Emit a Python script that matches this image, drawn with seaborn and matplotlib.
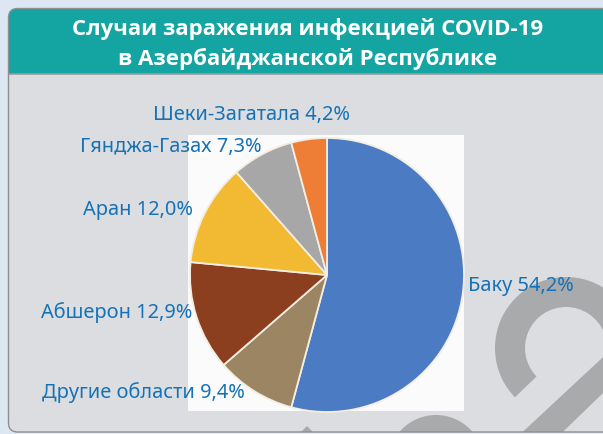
import matplotlib
matplotlib.use("Agg")
import matplotlib.pyplot as plt
from matplotlib.patches import FancyBboxPatch, Rectangle, Wedge, Polygon, Ellipse
import seaborn as sns

# Data: share of COVID-19 cases by economic region (%)
regions = ["Баку", "Другие области", "Абшерон", "Аран", "Гянджа-Газах", "Шеки-Загатала"]
shares = [54.2, 9.4, 12.9, 12.0, 7.3, 4.2]
region_colors = ["#4b7bc3", "#9c8562", "#8c3f1f", "#f2b933", "#a7a7a7", "#ee7d35"]
title_lines = ["Случаи заражения инфекцией COVID-19", "в Азербайджанской Республике"]

sns.set_theme(style="white")
plt.rcParams["font.family"] = ["Noto Sans", "DejaVu Sans"]

W, H = 603, 434
fig = plt.figure(figsize=(W / 100, H / 100), dpi=100)
fig.patch.set_facecolor("#dde7f4")

# Pixel-space canvas for the panel, header and background decoration
bg = fig.add_axes([0, 0, 1, 1])
bg.set_xlim(0, W)
bg.set_ylim(H, 0)
bg.axis("off")

panel_kw = dict(boxstyle="round,pad=0,rounding_size=9")
panel = FancyBboxPatch((8.5, 8.5), 700, 423.5, facecolor="#dcdde0",
                       edgecolor="none", zorder=1, **panel_kw)
bg.add_patch(panel)

header = Rectangle((0, 0), W + 100, 73.5, facecolor="#14a4a1",
                   edgecolor="none", zorder=2)
bg.add_patch(header)
header.set_clip_path(panel)
bg.plot([8.5, W], [73.5, 73.5], color="#9a9c9e", lw=1.2, zorder=3)

# Large grey stroke shapes in the lower right of the panel
deco = "#a9aaac"
deco_patches = [
    Wedge((566, 348), 71, -224, 45, width=30),
    Polygon([(630, 332), (470, 481), (512, 481), (630, 367)]),
    Polygon([(307, 426), (289, 444), (325, 444)]),
    Ellipse((436, 463), 96, 96),
]
for p in deco_patches:
    p.set_facecolor(deco)
    p.set_edgecolor("none")
    p.set_zorder(2.5)
    bg.add_patch(p)
    p.set_clip_path(panel)

border = FancyBboxPatch((8.5, 8.5), 700, 423.5, facecolor="none",
                        edgecolor="#8e8e8e", linewidth=1.0, zorder=4, **panel_kw)
bg.add_patch(border)

# White backdrop behind the pie
bg.add_patch(Rectangle((188, 135), 276, 276, facecolor="#fbfbfb",
                       edgecolor="none", zorder=3))

for line, base in zip(title_lines, [35, 65]):
    bg.text(308, base, line, ha="center", va="baseline", color="white",
            fontsize=16, fontweight="bold", family=["Open Sans", "DejaVu Sans"],
            zorder=5)

# Pie chart
cx, cy, R = 327, 275, 137
pie_ax = fig.add_axes([(cx - R) / W, (H - cy - R) / H, 2 * R / W, 2 * R / H])
labels = [f"{name} {value:.1f}%".replace(".", ",") for name, value in zip(regions, shares)]
wedges, texts = pie_ax.pie(
    shares,
    labels=labels,
    colors=sns.color_palette(region_colors),
    startangle=90,
    counterclock=False,
    labeldistance=1.03,
    wedgeprops=dict(edgecolor="#f3ede2", linewidth=1.3),
    textprops=dict(color="#1572b6", fontsize=14.4),
)
pie_ax.set_xlim(-1, 1)
pie_ax.set_ylim(-1, 1)

# Label anchors (pixel x, baseline y, alignment)
label_layout = [(468, 291, "left"), (245, 398, "right"), (192, 318, "right"),
                (193, 215, "right"), (262, 152, "right"), (350, 120, "right")]
for t, (lx, ly, ha) in zip(texts, label_layout):
    t.set_position(((lx - cx) / R, (cy - ly) / R))
    t.set_ha(ha)
    t.set_va("baseline")

fig.savefig("out.png", dpi=100)
